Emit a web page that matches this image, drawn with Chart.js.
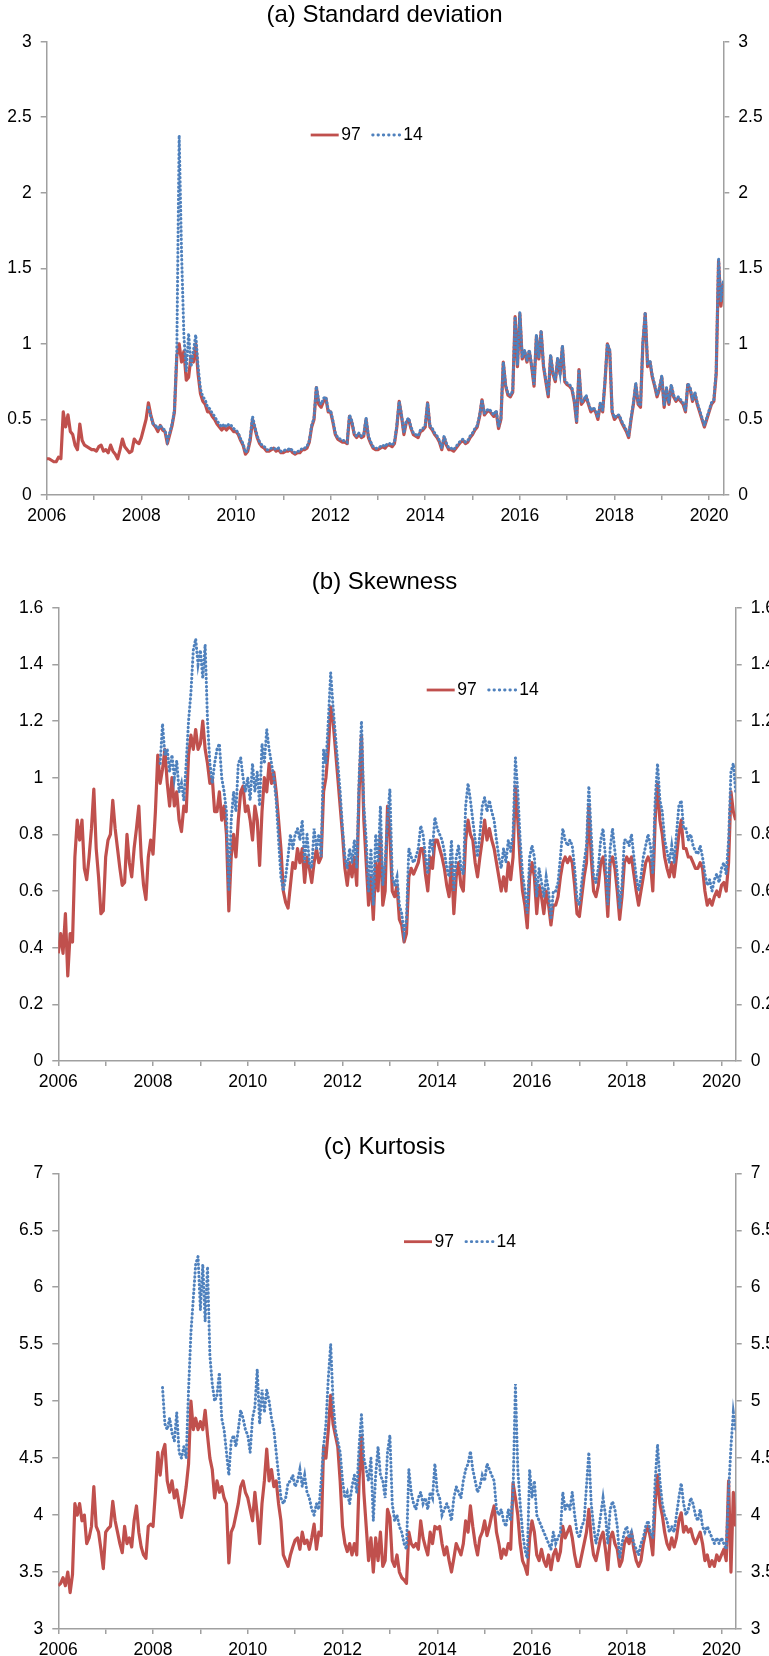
<!DOCTYPE html>
<html>
<head>
<meta charset="utf-8">
<script src="https://cdn.jsdelivr.net/npm/chart.js@4/dist/chart.umd.min.js"></script>
<style>
  html, body { margin: 0; padding: 0; background: #fff; overflow: hidden; width: 769px; height: 1656px; }
  canvas { position: absolute; left: 0; }
  #sdChart { top: 0; }
  #skChart { top: 560px; }
  #kuChart { top: 1120px; }
</style>
</head>
<body>
<canvas id="sdChart" width="769" height="540" style="width:769px;height:540px"></canvas>
<canvas id="skChart" width="769" height="540" style="width:769px;height:540px"></canvas>
<canvas id="kuChart" width="769" height="536" style="width:769px;height:536px"></canvas>
<script>
// Observations are sampled every 0.05 year (20 per year), starting at the given year.
const STEPS_PER_YEAR = 20;

// Shared x axis: years
const yearTicks  = [2006, 2007, 2008, 2009, 2010, 2011, 2012, 2013, 2014, 2015, 2016, 2017, 2018, 2019, 2020];
const yearLabels = ['2006', '', '2008', '', '2010', '', '2012', '', '2014', '', '2016', '', '2018', '', '2020'];

// (a) Standard deviation
const sdTicks  = [0, 0.5, 1, 1.5, 2, 2.5, 3];
const sdLabels = ['0', '0.5', '1', '1.5', '2', '2.5', '3'];
const sd97Start = 2006;
const sd97 = [
  0.24,0.24,0.23,0.22,0.22,0.25,0.24,0.55,0.45,0.53,0.42,0.40,0.33,0.30,0.47,0.36,0.33,0.32,0.31,0.30, // 2006
  0.30,0.29,0.32,0.33,0.29,0.30,0.28,0.33,0.29,0.27,0.24,0.30,0.37,0.32,0.30,0.28,0.29,0.37,0.35,0.34, // 2007
  0.38,0.44,0.50,0.61,0.53,0.47,0.45,0.42,0.46,0.43,0.42,0.34,0.40,0.46,0.55,0.92,1.00,0.88,0.95,0.76, // 2008
  0.78,0.92,0.88,1.00,0.80,0.67,0.62,0.60,0.55,0.55,0.52,0.50,0.47,0.45,0.43,0.45,0.43,0.45,0.44,0.42, // 2009
  0.42,0.40,0.36,0.33,0.27,0.29,0.36,0.50,0.44,0.38,0.34,0.32,0.31,0.29,0.29,0.30,0.31,0.29,0.30,0.28, // 2010
  0.28,0.29,0.29,0.30,0.28,0.27,0.28,0.28,0.30,0.30,0.31,0.35,0.45,0.50,0.71,0.60,0.58,0.62,0.64,0.55, // 2011
  0.55,0.48,0.40,0.37,0.36,0.35,0.35,0.34,0.52,0.48,0.40,0.38,0.40,0.38,0.39,0.50,0.38,0.34,0.31,0.30, // 2012
  0.30,0.31,0.32,0.31,0.33,0.33,0.32,0.34,0.45,0.62,0.52,0.40,0.48,0.50,0.44,0.40,0.39,0.38,0.42,0.43, // 2013
  0.45,0.61,0.45,0.43,0.40,0.38,0.35,0.30,0.38,0.33,0.30,0.30,0.29,0.31,0.33,0.35,0.36,0.34,0.35,0.38, // 2014
  0.40,0.43,0.45,0.52,0.63,0.53,0.55,0.56,0.54,0.52,0.55,0.44,0.50,0.88,0.72,0.66,0.65,0.68,1.18,0.85, // 2015
  1.20,0.90,0.95,0.88,0.95,0.85,0.72,1.05,0.90,1.08,0.85,0.75,0.65,0.92,0.80,0.75,0.90,0.80,0.98,0.75, // 2016
  0.73,0.72,0.70,0.62,0.48,0.83,0.60,0.62,0.65,0.60,0.55,0.57,0.55,0.50,0.60,0.55,0.75,1.00,0.95,0.55, // 2017
  0.50,0.52,0.52,0.48,0.45,0.42,0.38,0.50,0.60,0.73,0.60,0.58,1.00,1.20,0.85,0.88,0.78,0.72,0.65,0.70, // 2018
  0.78,0.58,0.70,0.60,0.72,0.65,0.62,0.64,0.62,0.60,0.55,0.73,0.70,0.62,0.67,0.60,0.55,0.50,0.45,0.50, // 2019
  0.55,0.60,0.62,0.80,1.55,1.25,1.40                                                                   // 2020
];
const sd14Start = 2008.15;
const sd14 = [
                                 0.58,0.52,0.47,0.46,0.44,0.46,0.44,0.43,0.36,0.41,0.47,0.56,0.95,2.38,1.60,1.05,0.82, // 2008
  1.07,0.85,0.95,1.06,0.85,0.70,0.65,0.63,0.58,0.57,0.54,0.52,0.49,0.47,0.45,0.47,0.45,0.47,0.46,0.44, // 2009
  0.43,0.41,0.37,0.34,0.28,0.30,0.38,0.52,0.45,0.39,0.35,0.33,0.32,0.30,0.30,0.31,0.31,0.30,0.31,0.29, // 2010
  0.29,0.30,0.30,0.31,0.29,0.28,0.29,0.29,0.31,0.31,0.32,0.36,0.46,0.51,0.72,0.62,0.60,0.64,0.65,0.56, // 2011
  0.56,0.49,0.41,0.38,0.37,0.36,0.36,0.35,0.53,0.49,0.41,0.39,0.41,0.39,0.40,0.51,0.39,0.35,0.32,0.31, // 2012
  0.31,0.32,0.33,0.32,0.34,0.34,0.33,0.35,0.46,0.62,0.53,0.41,0.49,0.51,0.45,0.41,0.40,0.39,0.43,0.44, // 2013
  0.46,0.61,0.46,0.44,0.41,0.39,0.36,0.31,0.39,0.34,0.31,0.31,0.30,0.32,0.34,0.36,0.37,0.35,0.36,0.39, // 2014
  0.41,0.44,0.46,0.53,0.63,0.54,0.56,0.57,0.55,0.53,0.56,0.45,0.51,0.88,0.73,0.67,0.66,0.69,1.18,0.86, // 2015
  1.21,0.91,0.96,0.89,0.96,0.86,0.73,1.06,0.91,1.09,0.86,0.76,0.66,0.93,0.81,0.76,0.91,0.81,0.99,0.76, // 2016
  0.74,0.73,0.71,0.63,0.49,0.83,0.61,0.63,0.66,0.61,0.56,0.58,0.56,0.51,0.61,0.56,0.76,1.00,0.96,0.56, // 2017
  0.51,0.53,0.53,0.49,0.46,0.43,0.39,0.51,0.61,0.74,0.61,0.59,1.01,1.21,0.86,0.89,0.79,0.73,0.66,0.71, // 2018
  0.79,0.59,0.71,0.61,0.73,0.66,0.63,0.65,0.63,0.61,0.56,0.74,0.71,0.63,0.68,0.61,0.56,0.51,0.46,0.51, // 2019
  0.56,0.61,0.63,0.82,1.57,1.28,1.42                                                                   // 2020
];

// (b) Skewness
const skTicks  = [0, 0.2, 0.4, 0.6, 0.8, 1, 1.2, 1.4, 1.6];
const skLabels = ['0', '0.2', '0.4', '0.6', '0.8', '1', '1.2', '1.4', '1.6'];
const sk97Start = 2006;
const sk97 = [
  0.38,0.45,0.38,0.52,0.30,0.45,0.42,0.72,0.85,0.78,0.85,0.68,0.64,0.72,0.82,0.96,0.75,0.65,0.52,0.53, // 2006
  0.72,0.78,0.80,0.92,0.82,0.75,0.68,0.62,0.63,0.80,0.70,0.65,0.75,0.82,0.90,0.72,0.62,0.57,0.72,0.78, // 2007
  0.73,0.88,1.08,0.98,1.03,1.10,0.98,0.90,1.00,0.90,0.95,0.85,0.81,0.90,0.88,1.08,1.15,1.10,1.17,1.10, // 2008
  1.12,1.20,1.10,1.05,0.98,1.00,0.88,0.88,0.95,0.85,0.90,0.80,0.53,0.72,0.80,0.72,0.85,0.95,0.97,0.88, // 2009
  0.90,0.85,0.78,0.90,0.85,0.69,0.88,1.00,0.95,1.05,0.98,1.02,0.95,0.85,0.75,0.60,0.56,0.54,0.62,0.70, // 2010
  0.68,0.75,0.70,0.75,0.63,0.72,0.68,0.63,0.70,0.75,0.70,0.72,0.95,1.00,1.10,1.25,1.20,1.10,1.00,0.90, // 2011
  0.80,0.68,0.62,0.70,0.65,0.72,0.62,0.95,1.15,0.85,0.70,0.55,0.65,0.50,0.70,0.60,0.80,0.55,0.60,0.90, // 2012
  0.80,0.60,0.58,0.62,0.50,0.48,0.42,0.45,0.65,0.68,0.66,0.68,0.70,0.75,0.75,0.66,0.60,0.72,0.68,0.78, // 2013
  0.78,0.75,0.72,0.68,0.62,0.58,0.70,0.52,0.65,0.70,0.62,0.60,0.78,0.85,0.80,0.78,0.70,0.65,0.72,0.78, // 2014
  0.85,0.78,0.82,0.78,0.75,0.70,0.65,0.60,0.65,0.60,0.70,0.64,0.72,0.97,0.85,0.70,0.60,0.55,0.47,0.65, // 2015
  0.70,0.65,0.52,0.62,0.58,0.52,0.60,0.55,0.48,0.55,0.55,0.58,0.65,0.70,0.72,0.70,0.72,0.70,0.62,0.52, // 2016
  0.51,0.58,0.65,0.70,0.90,0.72,0.60,0.58,0.62,0.70,0.72,0.65,0.51,0.70,0.72,0.68,0.60,0.50,0.58,0.70, // 2017
  0.72,0.70,0.72,0.66,0.60,0.55,0.60,0.65,0.70,0.72,0.70,0.60,0.85,0.98,0.85,0.80,0.72,0.68,0.65,0.70, // 2018
  0.65,0.72,0.80,0.85,0.75,0.75,0.72,0.72,0.70,0.68,0.68,0.70,0.68,0.60,0.55,0.57,0.55,0.58,0.60,0.58, // 2019
  0.62,0.63,0.60,0.70,0.95,0.88,0.85                                                                   // 2020
];
const sk14Start = 2008.15;
const sk14 = [
                                 1.05,1.19,1.08,1.10,1.02,1.08,1.00,1.06,0.95,0.98,0.92,1.05,1.20,1.30,1.45,1.49,1.40, // 2008
  1.45,1.35,1.47,1.20,1.05,0.98,1.05,1.10,1.12,1.00,0.95,0.88,0.60,0.85,0.95,0.88,1.05,1.07,1.00,0.95, // 2009
  1.00,0.92,1.05,0.95,1.02,0.90,1.12,1.05,1.17,1.10,1.05,1.00,0.92,0.78,0.65,0.60,0.65,0.72,0.80,0.75, // 2010
  0.80,0.82,0.78,0.85,0.70,0.80,0.70,0.68,0.82,0.75,0.80,0.72,1.10,1.05,1.20,1.37,1.25,1.15,1.05,0.95, // 2011
  0.82,0.72,0.68,0.75,0.70,0.78,0.68,1.00,1.20,0.90,0.78,0.60,0.75,0.55,0.80,0.70,0.90,0.62,0.70,0.85, // 2012
  0.96,0.65,0.62,0.65,0.55,0.52,0.45,0.50,0.75,0.72,0.70,0.72,0.75,0.83,0.80,0.72,0.66,0.78,0.75,0.86, // 2013
  0.82,0.80,0.78,0.74,0.68,0.65,0.78,0.60,0.72,0.76,0.68,0.66,0.90,0.98,0.92,0.85,0.78,0.72,0.80,0.90, // 2014
  0.93,0.88,0.92,0.88,0.85,0.78,0.72,0.68,0.75,0.70,0.78,0.74,0.80,1.07,0.95,0.78,0.66,0.60,0.52,0.72, // 2015
  0.76,0.72,0.58,0.68,0.63,0.58,0.65,0.60,0.50,0.60,0.60,0.63,0.72,0.82,0.78,0.76,0.78,0.76,0.68,0.57, // 2016
  0.55,0.63,0.70,0.76,0.97,0.80,0.65,0.63,0.68,0.78,0.82,0.72,0.55,0.75,0.82,0.74,0.66,0.54,0.62,0.78, // 2017
  0.78,0.76,0.80,0.72,0.65,0.60,0.65,0.72,0.76,0.80,0.76,0.66,0.92,1.05,0.92,0.88,0.78,0.74,0.70,0.76, // 2018
  0.70,0.80,0.90,0.92,0.82,0.82,0.78,0.80,0.76,0.74,0.73,0.76,0.72,0.66,0.62,0.64,0.60,0.64,0.66,0.63, // 2019
  0.68,0.70,0.66,0.78,1.02,1.05,0.95                                                                   // 2020
];

// (c) Kurtosis
const kuTicks  = [3, 3.5, 4, 4.5, 5, 5.5, 6, 6.5, 7];
const kuLabels = ['3', '3.5', '4', '4.5', '5', '5.5', '6', '6.5', '7'];
const ku97Start = 2006;
const ku97 = [
  3.38,3.40,3.45,3.38,3.50,3.32,3.48,4.10,4.00,4.10,3.95,4.00,3.75,3.80,3.90,4.25,3.90,3.85,3.70,3.53, // 2006
  3.85,3.88,3.90,4.12,3.95,3.85,3.75,3.67,3.90,3.75,3.80,3.72,3.95,4.08,3.85,3.72,3.65,3.62,3.90,3.92, // 2007
  3.90,4.20,4.55,4.35,4.55,4.62,4.30,4.20,4.30,4.15,4.22,4.10,3.98,4.10,4.25,4.45,5.00,4.75,4.85,4.75, // 2008
  4.82,4.75,4.92,4.70,4.50,4.40,4.15,4.30,4.20,4.25,4.15,4.10,3.58,3.85,3.90,4.00,4.10,4.25,4.30,4.20, // 2009
  4.15,4.05,3.95,4.20,4.00,3.75,4.10,4.30,4.58,4.30,4.40,4.25,4.30,4.10,3.95,3.65,3.60,3.55,3.65,3.72, // 2010
  3.78,3.80,3.70,3.85,3.75,3.78,3.70,3.80,3.92,3.70,3.85,3.82,4.60,4.50,4.75,5.05,4.80,4.70,4.60,4.30, // 2011
  3.90,3.75,3.68,3.75,3.65,3.75,3.65,4.30,4.70,4.20,3.90,3.60,3.80,3.50,3.80,3.60,3.85,3.55,3.60,4.05, // 2012
  3.98,3.60,3.55,3.65,3.50,3.45,3.43,3.40,3.85,3.75,3.72,3.75,3.70,3.95,3.80,3.72,3.65,3.85,3.75,3.90, // 2013
  3.88,3.90,3.75,3.65,3.72,3.60,3.50,3.62,3.75,3.70,3.65,3.75,3.95,3.85,4.08,3.90,3.75,3.65,3.80,3.85, // 2014
  3.95,3.82,3.90,4.00,4.08,3.85,3.75,3.62,3.70,3.65,3.75,3.70,4.28,4.15,4.00,3.75,3.60,3.55,3.48,3.80, // 2015
  3.95,3.85,3.65,3.60,3.70,3.60,3.55,3.65,3.52,3.65,3.70,3.60,3.68,3.90,3.80,3.85,3.90,3.80,3.65,3.55, // 2016
  3.55,3.65,3.75,3.85,4.05,3.80,3.65,3.60,3.70,3.80,3.85,3.70,3.52,3.80,3.85,3.75,3.70,3.55,3.60,3.75, // 2017
  3.80,3.75,3.85,3.70,3.60,3.55,3.60,3.75,3.85,3.90,3.80,3.65,4.10,4.35,4.10,4.00,3.85,3.75,3.70,3.80, // 2018
  3.72,3.80,3.95,4.02,3.85,3.90,3.85,3.88,3.80,3.75,3.80,3.85,3.75,3.60,3.65,3.55,3.60,3.55,3.65,3.60, // 2019
  3.65,3.70,3.60,4.30,3.50,4.20,3.90                                                                   // 2020
];
const ku14Start = 2008.2;
const ku14 = [
                                      5.12,4.80,4.75,4.85,4.72,4.65,4.90,4.55,4.50,4.60,4.50,5.10,5.60,5.90,6.20,6.27, // 2008
  5.80,6.20,5.70,6.18,5.40,5.15,5.00,5.05,5.25,4.85,4.75,4.55,4.35,4.65,4.70,4.60,4.75,4.92,4.85,4.75, // 2009
  4.70,4.55,4.85,4.95,5.28,4.80,5.10,4.90,5.10,5.00,4.85,4.75,4.55,4.35,4.15,4.10,4.15,4.28,4.30,4.35, // 2010
  4.25,4.30,4.40,4.25,4.35,4.20,4.15,4.05,4.00,4.10,4.05,4.30,4.60,4.80,5.20,5.50,5.00,4.75,4.65,4.55, // 2011
  4.30,4.15,4.20,4.10,4.25,4.35,4.20,4.60,4.88,4.50,4.40,4.30,4.50,3.95,4.35,4.60,4.35,4.30,4.15,4.55, // 2012
  4.70,4.10,3.95,4.00,3.90,3.85,3.75,3.70,4.40,4.20,4.10,4.05,4.15,4.20,4.10,4.15,4.05,4.20,4.15,4.45, // 2013
  4.20,4.15,4.00,4.05,4.10,4.05,3.95,4.15,4.25,4.20,4.15,4.30,4.40,4.45,4.56,4.40,4.30,4.20,4.25,4.35, // 2014
  4.30,4.45,4.40,4.35,4.30,4.05,4.00,4.05,3.95,3.90,4.05,3.95,4.20,5.15,4.40,4.10,3.85,3.70,3.62,4.40, // 2015
  4.15,4.30,4.00,3.95,3.90,3.85,3.80,3.75,3.70,3.85,3.75,3.80,3.85,4.20,4.05,4.10,4.05,4.20,4.00,3.85, // 2016
  3.80,3.90,3.95,4.25,4.55,4.10,3.90,3.75,3.85,4.00,4.15,4.00,3.75,4.05,4.12,4.05,3.90,3.62,3.75,3.85, // 2017
  3.90,3.80,3.85,3.75,3.70,3.65,3.75,3.80,3.90,3.95,3.85,3.80,4.30,4.62,4.30,4.10,4.00,3.95,3.85,3.90, // 2018
  3.85,4.00,4.15,4.28,4.10,4.00,4.05,4.15,4.10,4.00,3.95,4.05,3.90,3.85,3.90,3.85,3.80,3.75,3.80,3.75, // 2019
  3.80,3.75,3.70,4.20,4.60,4.90,4.75                                                                   // 2020
];

const RED = '#C0504D';
const BLUE = '#4F81BD';
const AXIS = '#a0a0a0';
const FONT = '"Liberation Sans", Arial, Helvetica, sans-serif';

// Turn a regularly sampled series into {x: year, y: value} points.
function toPoints(values, start) {
  const s = Math.round(start * STEPS_PER_YEAR);
  return values.map((v, i) => ({ x: (s + i) / STEPS_PER_YEAR, y: v }));
}

// Legend drawn inside the plot area: a sample stroke followed by the series name.
const inlineLegend = {
  id: 'inlineLegend',
  afterDraw(chart, args, opts) {
    const ctx = chart.ctx;
    ctx.save();
    ctx.font = opts.fontSize + 'px ' + FONT;
    ctx.textBaseline = 'middle';
    ctx.textAlign = 'left';
    let x = opts.x;
    const y = opts.y;
    chart.data.datasets.forEach(ds => {
      ctx.save();
      ctx.strokeStyle = ds.borderColor;
      ctx.lineWidth = Math.min(ds.borderWidth, 2.8);
      ctx.lineCap = ds.borderCapStyle || 'butt';
      ctx.setLineDash(ds.borderDash ? [0.5, 4.8] : []);
      ctx.beginPath();
      ctx.moveTo(x, y);
      ctx.lineTo(x + opts.sample, y);
      ctx.stroke();
      ctx.restore();
      x += opts.sample + opts.textGap;
      ctx.fillStyle = '#000';
      ctx.fillText(ds.label, x, y);
      x += ctx.measureText(ds.label).width + opts.itemGap;
    });
    ctx.restore();
  }
};

function valueAxis(position, ticks, labels, min, max, width) {
  return {
    type: 'linear',
    position: position,
    min: min,
    max: max,
    afterBuildTicks: s => { s.ticks = ticks.map(v => ({ value: v })); },
    afterFit: s => { s.width = width; },
    ticks: {
      callback: (v, i) => labels[i],
      autoSkip: false,
      padding: 9,
      color: '#000',
      font: { family: FONT, size: 17.5 }
    },
    grid: { drawOnChartArea: false, drawTicks: true, tickLength: 6, color: AXIS, lineWidth: 1.5 },
    border: { display: true, color: AXIS, width: 1.5 }
  };
}

function makePanel(id, p) {
  new Chart(document.getElementById(id), {
    type: 'line',
    data: {
      datasets: [
        {
          label: '97',
          data: toPoints(p.red, p.redStart),
          borderColor: RED,
          borderWidth: 3.2,
          borderJoinStyle: 'round',
          pointRadius: 0,
          tension: 0,
          order: 2
        },
        {
          label: '14',
          data: toPoints(p.blue, p.blueStart),
          borderColor: BLUE,
          borderWidth: 3,
          borderDash: [0.5, 3.6],
          borderCapStyle: 'round',
          pointRadius: 0,
          tension: 0,
          order: 1
        }
      ]
    },
    options: {
      responsive: false,
      animation: false,
      devicePixelRatio: 1,
      parsing: false,
      layout: { padding: 0 },
      scales: {
        x: {
          type: 'linear',
          min: 2006,
          max: 2020.3,
          afterBuildTicks: s => { s.ticks = yearTicks.map(v => ({ value: v })); },
          afterFit: s => { s.height = p.xHeight; },
          ticks: {
            callback: (v, i) => yearLabels[i],
            autoSkip: false,
            maxRotation: 0,
            padding: 5.3,
            color: '#000',
            font: { family: FONT, size: 17.5 }
          },
          grid: { drawOnChartArea: false, drawTicks: true, tickLength: 5, color: AXIS, lineWidth: 1.5 },
          border: { display: true, color: AXIS, width: 1.5 }
        },
        y: valueAxis('left', p.ticks, p.labels, p.min, p.max, p.leftWidth),
        y2: valueAxis('right', p.ticks, p.labels, p.min, p.max, p.rightWidth)
      },
      plugins: {
        legend: { display: false },
        tooltip: { enabled: false },
        title: {
          display: true,
          text: p.title,
          color: '#000',
          font: { family: FONT, size: 24, weight: 'normal', lineHeight: 1.2 },
          padding: { top: p.titleTop, bottom: p.titleBottom }
        },
        inlineLegend: { x: p.legendX, y: p.legendY, fontSize: 17.5, sample: 28, textGap: 2.5, itemGap: 12 }
      }
    },
    plugins: [inlineLegend]
  });
}

makePanel('sdChart', {
  title: '(a) Standard deviation',
  red: sd97, redStart: sd97Start, blue: sd14, blueStart: sd14Start,
  ticks: sdTicks, labels: sdLabels, min: 0, max: 3,
  leftWidth: 46.7, rightWidth: 45.7, xHeight: 45,
  titleTop: 0.6, titleBottom: 12.3,
  legendX: 310.7, legendY: 135
});

makePanel('skChart', {
  title: '(b) Skewness',
  red: sk97, redStart: sk97Start, blue: sk14, blueStart: sk14Start,
  ticks: skTicks, labels: skLabels, min: 0, max: 1.6,
  leftWidth: 58.3, rightWidth: 33.3, xHeight: 39,
  titleTop: 7.6, titleBottom: 11.3,
  legendX: 426.7, legendY: 130
});

makePanel('kuChart', {
  title: '(c) Kurtosis',
  red: ku97, redStart: ku97Start, blue: ku14, blueStart: ku14Start,
  ticks: kuTicks, labels: kuLabels, min: 3, max: 7,
  leftWidth: 58.3, rightWidth: 33.3, xHeight: 27,
  titleTop: 12.6, titleBottom: 11.9,
  legendX: 404, legendY: 121.7
});
</script>
</body>
</html>
